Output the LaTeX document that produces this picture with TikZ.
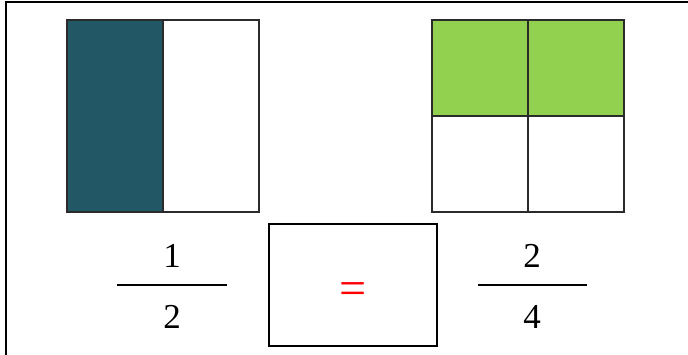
\documentclass[tikz,border=0pt]{standalone}
\usepackage{fontspec}
\setmainfont{Liberation Serif}
\usetikzlibrary{positioning}

\definecolor{halfteal}{RGB}{34,88,102}
\definecolor{quartergreen}{RGB}{146,208,80}
\definecolor{cellline}{RGB}{43,43,43}

\begin{document}
\begin{tikzpicture}[
    x=1pt, y=-1pt,
    cell/.style={draw=cellline, line width=2.4pt, minimum width=96pt, minimum height=192pt, inner sep=0pt, outer sep=0pt},
    qcell/.style={cell, minimum height=96pt},
    num/.style={inner sep=0pt, font=\fontsize{35}{35}\selectfont},
    bar/.style={line width=1.8pt},
    frame/.style={line width=2.8pt}
]
\useasboundingbox (0,0) rectangle (688,355);

% Frame
\draw [frame] (6,355) -- (6,2) -- (688,2);

% One half
\node (halfA) [cell, fill=halfteal] at (115,116) {};
\node (halfB) [cell, right=0pt of halfA] {};

% Two quarters
\node (qA) [qcell, fill=quartergreen] at (480,68) {};
\node (qB) [qcell, fill=quartergreen, right=0pt of qA] {};
\node (qC) [qcell, below=0pt of qA] {};
\node (qD) [qcell, below=0pt of qB] {};

% Fractions
\node (numA) [num] at (172,256) {1};
\node (denA) [num] at (172,317) {2};
\coordinate (barAl) at (117,285);
\coordinate (barAr) at (227,285);
\draw [bar] (barAl) -- (barAr);

\node (numB) [num] at (532,256) {2};
\node (denB) [num] at (532,317) {4};
\coordinate (barBl) at (478,285);
\coordinate (barBr) at (587,285);
\draw [bar] (barBl) -- (barBr);

% Answer box
\node (answer) [draw, line width=2pt, minimum width=168pt, minimum height=122pt, inner sep=0pt] at (353,285) {};
\node (eq) [inner sep=0pt, text=red, font=\fontsize{48}{48}\selectfont] at (353,294) {=};

\end{tikzpicture}
\end{document}
